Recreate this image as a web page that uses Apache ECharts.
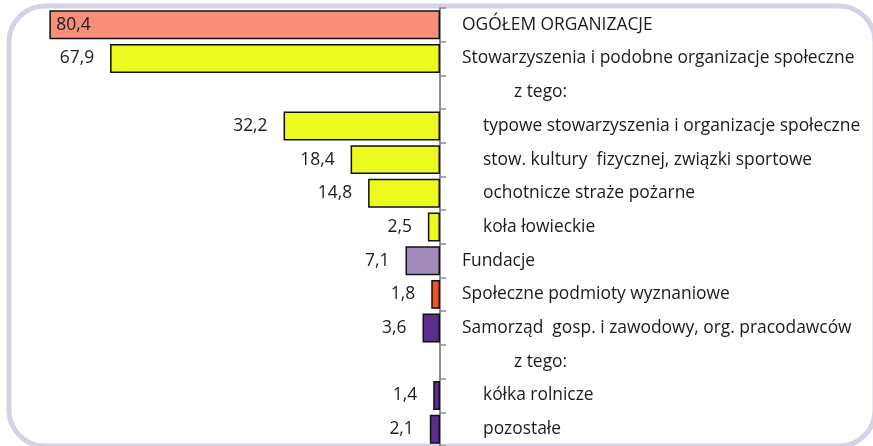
<!DOCTYPE html>
<html>
<head>
<meta charset="utf-8">
<script src="https://cdn.jsdelivr.net/npm/echarts@6/dist/echarts.min.js"></script>
<style>
  html, body { margin: 0; padding: 0; background: #fff; }
  #chart { width: 873px; height: 446px; }
</style>
</head>
<body>
<div id="chart"></div>
<script>
const categories = [
    "OGÓŁEM ORGANIZACJE",
    "Stowarzyszenia i podobne organizacje społeczne",
    "z tego:",
    "typowe stowarzyszenia i organizacje społeczne",
    "stow. kultury  fizycznej, związki sportowe",
    "ochotnicze straże pożarne",
    "koła łowieckie",
    "Fundacje",
    "Społeczne podmioty wyznaniowe",
    "Samorząd  gosp. i zawodowy, org. pracodawców",
    "z tego:",
    "kółka rolnicze",
    "pozostałe",
];
// 0 = main item, 1 = sub item, 2 = "z tego:" line
const levels = [0, 0, 2, 1, 1, 1, 1, 0, 0, 0, 2, 1, 1];
const values = [80.4, 67.9, null, 32.2, 18.4, 14.8, 2.5, 7.1, 1.8, 3.6, null, 1.4, 2.1];
const colors = ["#FA8F79", "#EDFA1E", null, "#EDFA1E", "#EDFA1E", "#EDFA1E", "#EDFA1E",
    "#A08BBA", "#F5521F", "#5B2E8E", null, "#5B2E8E", "#5B2E8E"];

const fontFamily = "'Open Sans', sans-serif";
const fontSize = 17.4;
const textColor = "#1b1b1b";

const chart = echarts.init(document.getElementById("chart"));

const barData = values.map((v, i) => {
    if (v === null) return null;
    const item = {
        value: v,
        itemStyle: { color: colors[i] },
    };
    if (i === 0) {
        item.label = { position: "insideLeft", distance: 7 };
    }
    return item;
});

const option = {
    animation: false,
    graphic: [{
        type: "rect",
        z: -10,
        shape: { x: 9, y: 6, width: 866, height: 440, r: 36 },
        style: { fill: "none", stroke: "#D7D1E5", lineWidth: 5 },
    }],
    grid: {
        left: 27,
        right: 433,
        top: 8,
        bottom: -2,
    },
    xAxis: {
        type: "value",
        inverse: true,
        min: 0,
        max: 85,
        show: false,
    },
    yAxis: {
        type: "category",
        position: "right",
        inverse: true,
        data: categories,
        axisLine: { show: true, lineStyle: { color: "#8c8c8c", width: 2 } },
        axisTick: { show: true, inside: false, length: 6, lineStyle: { color: "#8c8c8c", width: 1.5 } },
        axisLabel: {
            margin: 22,
            align: "left",
            color: textColor,
            fontFamily: fontFamily,
            fontSize: fontSize,
            formatter: (val, idx) => {
                const style = ["l0", "l1", "l2"][levels[idx]];
                return "{" + style + "|" + val + "}";
            },
            rich: {
                l0: { padding: [0, 0, 0, 0], fontFamily: fontFamily, fontSize: fontSize, color: textColor },
                l1: { padding: [0, 0, 0, 21], fontFamily: fontFamily, fontSize: fontSize, color: textColor },
                l2: { padding: [0, 0, 0, 52], fontFamily: fontFamily, fontSize: fontSize, color: textColor },
            },
        },
    },
    series: [{
        type: "bar",
        data: barData,
        barCategoryGap: "14%",
        itemStyle: { borderColor: "#111", borderWidth: 1.5 },
        label: {
            show: true,
            position: "left",
            distance: 16,
            color: textColor,
            fontFamily: fontFamily,
            fontSize: fontSize,
            formatter: (p) => p.value.toFixed(1).replace(".", ","),
        },
    }],
};

chart.setOption(option);
</script>
</body>
</html>
